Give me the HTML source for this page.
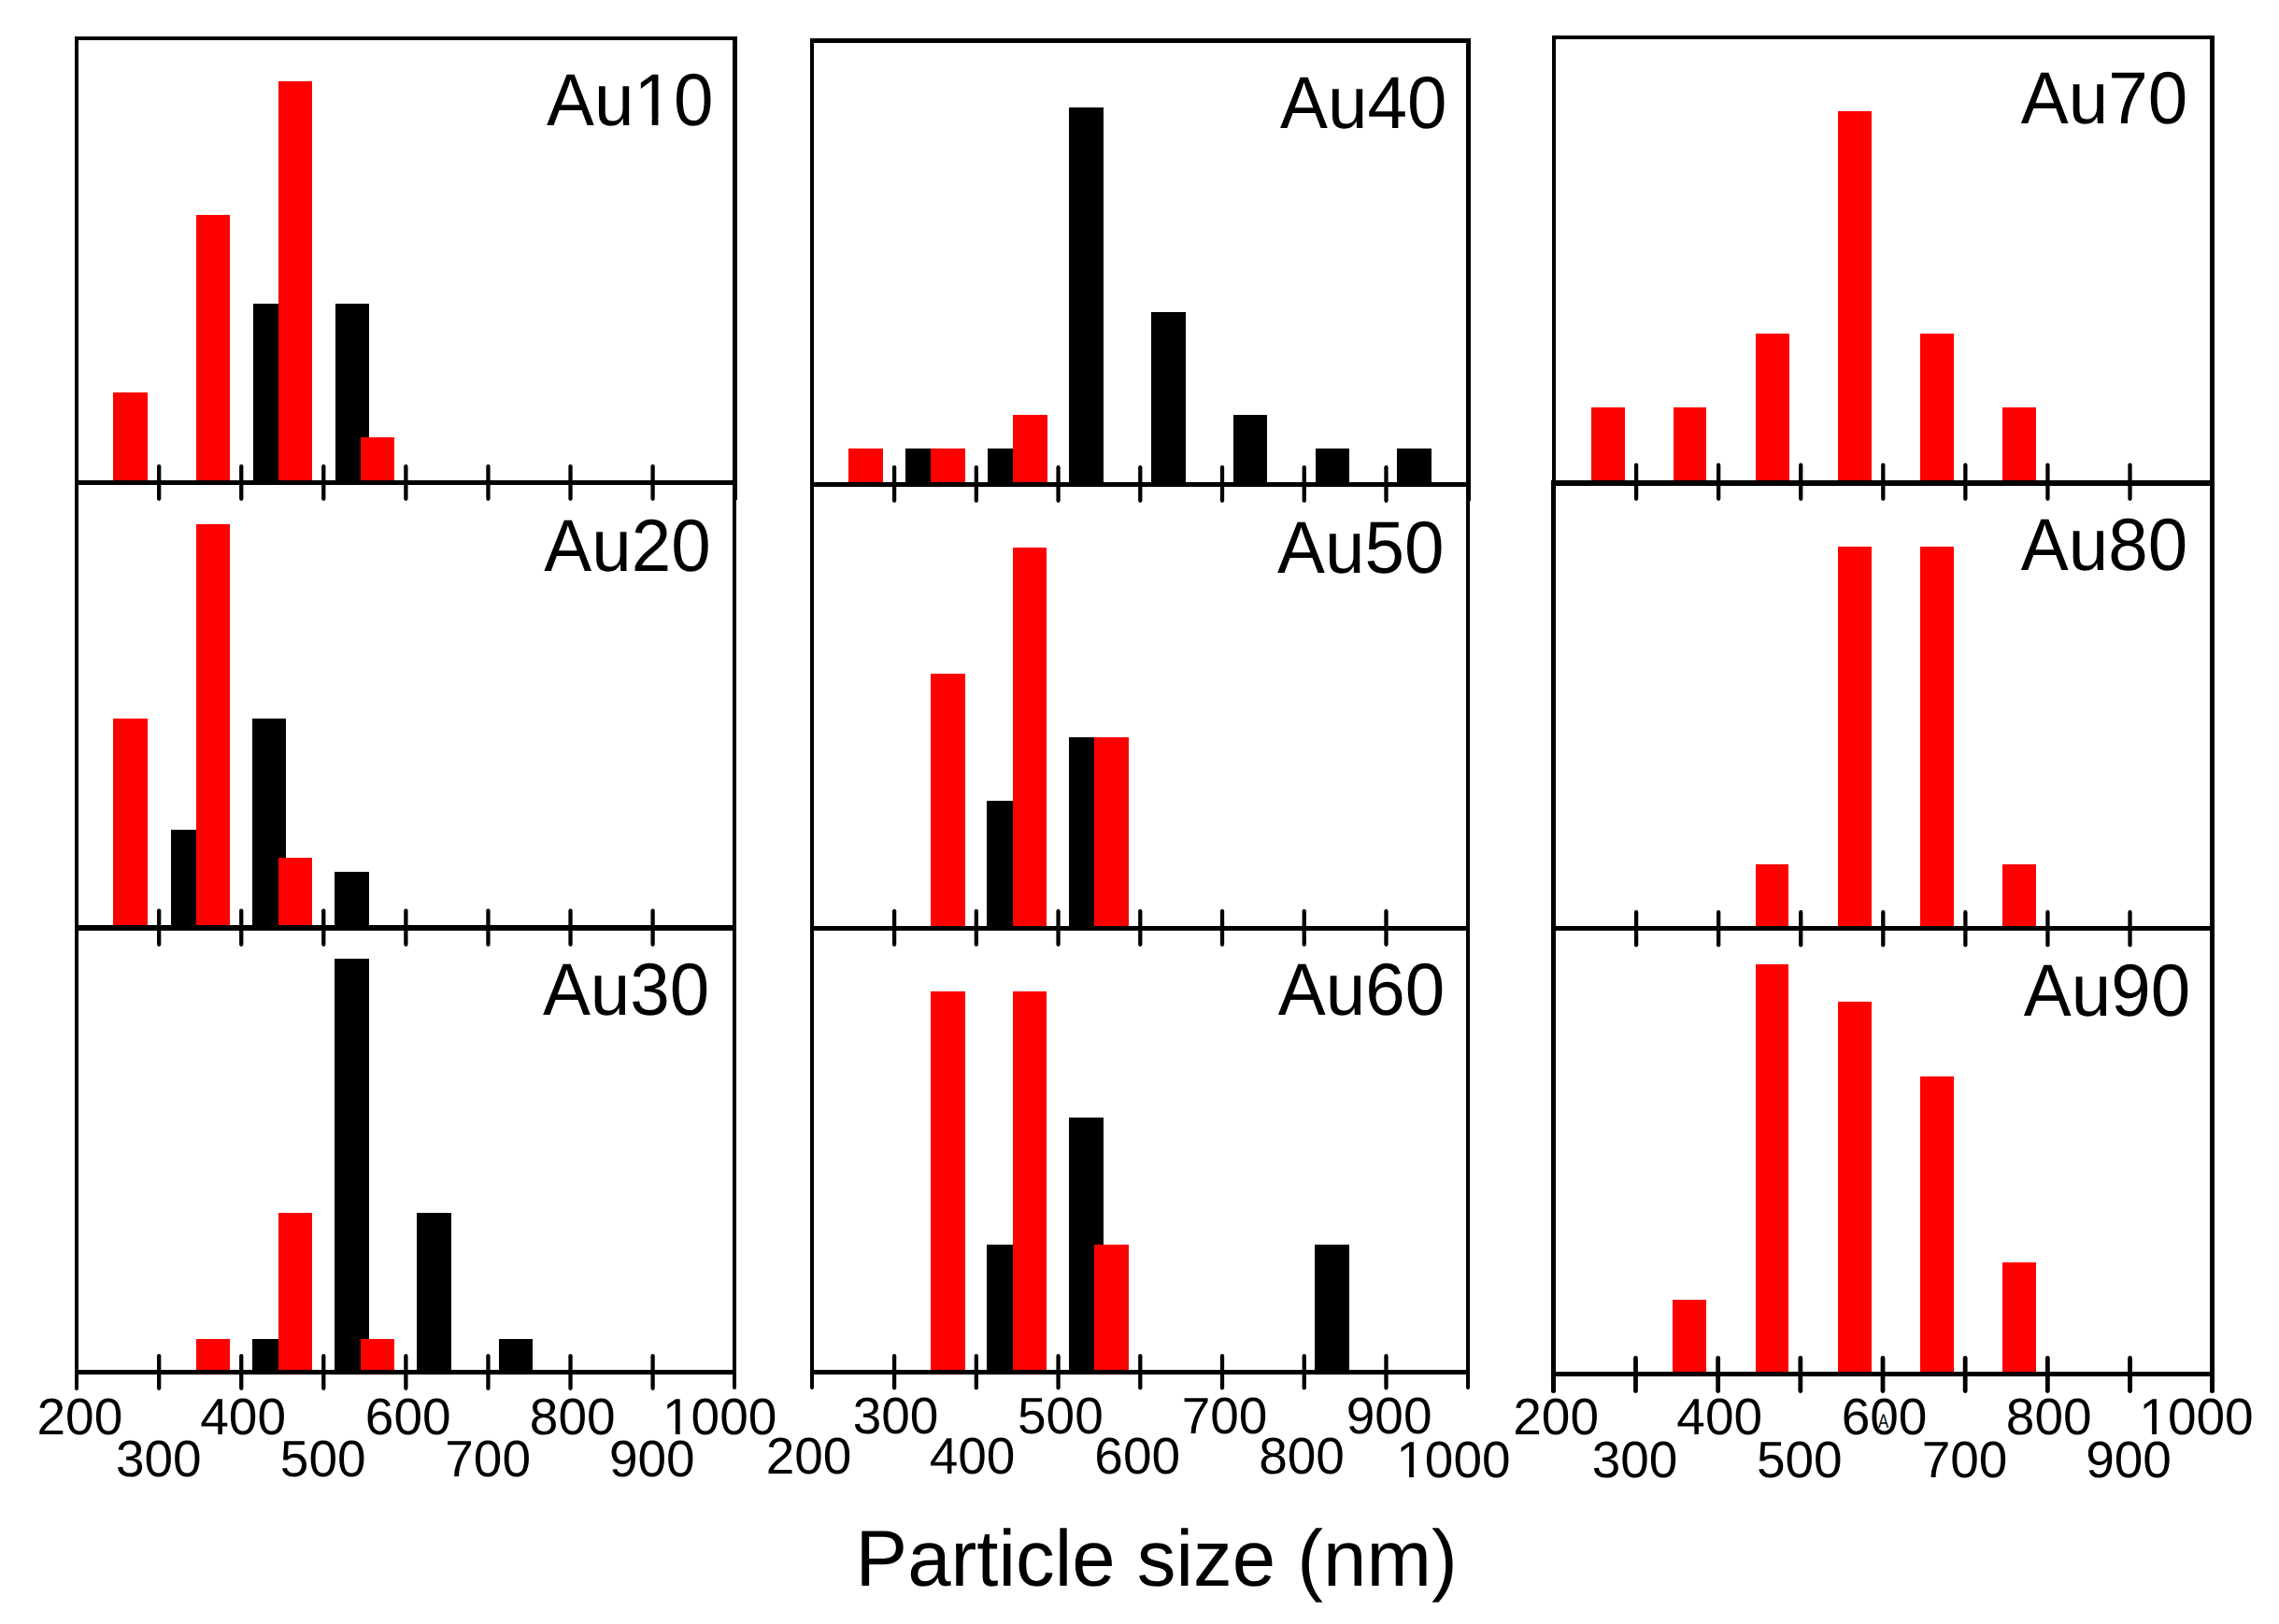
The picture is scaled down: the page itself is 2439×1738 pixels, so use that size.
<!DOCTYPE html>
<html lang="en"><head><meta charset="utf-8"><title>Particle size distributions</title>
<style>
html,body{margin:0;padding:0;background:#fff;}
body{width:2439px;height:1738px;overflow:hidden;}
svg{display:block;}
svg text{font-family:"Liberation Sans",sans-serif;fill:#000;text-rendering:geometricPrecision;}
svg rect{shape-rendering:crispEdges;}
svg rect.m{shape-rendering:geometricPrecision;}
</style></head><body>
<svg width="2439" height="1738" viewBox="0 0 2439 1738">
<rect x="0" y="0" width="2439" height="1738" fill="#fff"/>
<rect x="271.00" y="325.00" width="36.00" height="190.00" fill="#000"/>
<rect x="359.00" y="325.00" width="36.00" height="190.00" fill="#000"/>
<rect x="121.00" y="420.00" width="37.00" height="95.00" fill="#ff0000"/>
<rect x="210.00" y="230.00" width="36.00" height="285.00" fill="#ff0000"/>
<rect x="298.00" y="87.00" width="36.00" height="428.00" fill="#ff0000"/>
<rect x="386.00" y="468.00" width="36.00" height="47.00" fill="#ff0000"/>
<rect x="183.00" y="888.00" width="36.00" height="103.00" fill="#000"/>
<rect x="270.00" y="769.00" width="36.00" height="222.00" fill="#000"/>
<rect x="358.00" y="933.00" width="37.00" height="58.00" fill="#000"/>
<rect x="121.00" y="769.00" width="37.00" height="222.00" fill="#ff0000"/>
<rect x="210.00" y="561.00" width="36.00" height="430.00" fill="#ff0000"/>
<rect x="298.00" y="918.00" width="36.00" height="73.00" fill="#ff0000"/>
<rect x="270.00" y="1433.00" width="36.00" height="34.00" fill="#000"/>
<rect x="358.00" y="1026.00" width="37.00" height="441.00" fill="#000"/>
<rect x="446.00" y="1298.00" width="37.00" height="169.00" fill="#000"/>
<rect x="534.00" y="1433.00" width="36.00" height="34.00" fill="#000"/>
<rect x="210.00" y="1433.00" width="36.00" height="34.00" fill="#ff0000"/>
<rect x="298.00" y="1298.00" width="36.00" height="169.00" fill="#ff0000"/>
<rect x="386.00" y="1433.00" width="36.00" height="34.00" fill="#ff0000"/>
<rect x="969.00" y="480.00" width="36.00" height="37.00" fill="#000"/>
<rect x="1057.00" y="480.00" width="36.00" height="37.00" fill="#000"/>
<rect x="1144.00" y="115.00" width="37.00" height="402.00" fill="#000"/>
<rect x="1232.00" y="334.00" width="37.00" height="183.00" fill="#000"/>
<rect x="1320.00" y="444.00" width="36.00" height="73.00" fill="#000"/>
<rect x="1408.00" y="480.00" width="36.00" height="37.00" fill="#000"/>
<rect x="1495.00" y="480.00" width="37.00" height="37.00" fill="#000"/>
<rect x="908.00" y="480.00" width="37.00" height="37.00" fill="#ff0000"/>
<rect x="996.00" y="480.00" width="37.00" height="37.00" fill="#ff0000"/>
<rect x="1084.00" y="444.00" width="37.00" height="73.00" fill="#ff0000"/>
<rect x="1056.00" y="857.00" width="36.00" height="135.00" fill="#000"/>
<rect x="1144.00" y="789.00" width="36.00" height="203.00" fill="#000"/>
<rect x="996.00" y="721.00" width="37.00" height="271.00" fill="#ff0000"/>
<rect x="1084.00" y="586.00" width="36.00" height="406.00" fill="#ff0000"/>
<rect x="1171.00" y="789.00" width="37.00" height="203.00" fill="#ff0000"/>
<rect x="1056.00" y="1332.00" width="36.00" height="135.00" fill="#000"/>
<rect x="1144.00" y="1196.00" width="37.00" height="271.00" fill="#000"/>
<rect x="1407.00" y="1332.00" width="37.00" height="135.00" fill="#000"/>
<rect x="996.00" y="1061.00" width="37.00" height="406.00" fill="#ff0000"/>
<rect x="1084.00" y="1061.00" width="36.00" height="406.00" fill="#ff0000"/>
<rect x="1171.00" y="1332.00" width="37.00" height="135.00" fill="#ff0000"/>
<rect x="1703.00" y="436.00" width="36.00" height="79.00" fill="#ff0000"/>
<rect x="1791.00" y="436.00" width="35.00" height="79.00" fill="#ff0000"/>
<rect x="1879.00" y="357.00" width="36.00" height="158.00" fill="#ff0000"/>
<rect x="1967.00" y="119.00" width="36.00" height="396.00" fill="#ff0000"/>
<rect x="2055.00" y="357.00" width="36.00" height="158.00" fill="#ff0000"/>
<rect x="2143.00" y="436.00" width="36.00" height="79.00" fill="#ff0000"/>
<rect x="1879.00" y="925.00" width="35.00" height="66.50" fill="#ff0000"/>
<rect x="1967.00" y="585.00" width="36.00" height="406.50" fill="#ff0000"/>
<rect x="2055.00" y="585.00" width="36.00" height="406.50" fill="#ff0000"/>
<rect x="2143.00" y="925.00" width="36.00" height="66.50" fill="#ff0000"/>
<rect x="1790.00" y="1391.00" width="36.00" height="78.00" fill="#ff0000"/>
<rect x="1879.00" y="1032.00" width="35.00" height="437.00" fill="#ff0000"/>
<rect x="1967.00" y="1072.00" width="36.00" height="397.00" fill="#ff0000"/>
<rect x="2055.00" y="1152.00" width="36.00" height="317.00" fill="#ff0000"/>
<rect x="2143.00" y="1351.00" width="36.00" height="118.00" fill="#ff0000"/>
<rect x="80.00" y="39.00" width="4.00" height="1446.00" fill="#000"/>
<line x1="82.00" y1="1472.00" x2="82.00" y2="1486.00" stroke="#000" stroke-width="4" stroke-linecap="round"/>
<rect x="80.00" y="39.00" width="709.00" height="4.00" fill="#000"/>
<rect x="784.00" y="39.00" width="5.00" height="496.00" fill="#000"/>
<rect x="784.00" y="535.00" width="4.00" height="949.00" fill="#000"/>
<line x1="786.00" y1="1472.00" x2="786.00" y2="1485.00" stroke="#000" stroke-width="4" stroke-linecap="round"/>
<rect x="80.00" y="514.00" width="709.00" height="5.00" fill="#000"/>
<rect x="80.00" y="990.00" width="708.00" height="5.80" fill="#000"/>
<rect x="80.00" y="1466.00" width="708.00" height="5.00" fill="#000"/>
<line x1="170.17" y1="499.15" x2="170.17" y2="533.85" stroke="#000" stroke-width="4.3" stroke-linecap="round"/>
<line x1="170.17" y1="974.75" x2="170.17" y2="1010.85" stroke="#000" stroke-width="4.3" stroke-linecap="round"/>
<line x1="170.17" y1="1451.15" x2="170.17" y2="1485.85" stroke="#000" stroke-width="4.3" stroke-linecap="round"/>
<line x1="258.24" y1="499.15" x2="258.24" y2="533.85" stroke="#000" stroke-width="4.3" stroke-linecap="round"/>
<line x1="258.24" y1="974.75" x2="258.24" y2="1010.85" stroke="#000" stroke-width="4.3" stroke-linecap="round"/>
<line x1="258.24" y1="1451.15" x2="258.24" y2="1485.85" stroke="#000" stroke-width="4.3" stroke-linecap="round"/>
<line x1="346.31" y1="499.15" x2="346.31" y2="533.85" stroke="#000" stroke-width="4.3" stroke-linecap="round"/>
<line x1="346.31" y1="974.75" x2="346.31" y2="1010.85" stroke="#000" stroke-width="4.3" stroke-linecap="round"/>
<line x1="346.31" y1="1451.15" x2="346.31" y2="1485.85" stroke="#000" stroke-width="4.3" stroke-linecap="round"/>
<line x1="434.38" y1="499.15" x2="434.38" y2="533.85" stroke="#000" stroke-width="4.3" stroke-linecap="round"/>
<line x1="434.38" y1="974.75" x2="434.38" y2="1010.85" stroke="#000" stroke-width="4.3" stroke-linecap="round"/>
<line x1="434.38" y1="1451.15" x2="434.38" y2="1485.85" stroke="#000" stroke-width="4.3" stroke-linecap="round"/>
<line x1="522.45" y1="499.15" x2="522.45" y2="533.85" stroke="#000" stroke-width="4.3" stroke-linecap="round"/>
<line x1="522.45" y1="974.75" x2="522.45" y2="1010.85" stroke="#000" stroke-width="4.3" stroke-linecap="round"/>
<line x1="522.45" y1="1451.15" x2="522.45" y2="1485.85" stroke="#000" stroke-width="4.3" stroke-linecap="round"/>
<line x1="610.52" y1="499.15" x2="610.52" y2="533.85" stroke="#000" stroke-width="4.3" stroke-linecap="round"/>
<line x1="610.52" y1="974.75" x2="610.52" y2="1010.85" stroke="#000" stroke-width="4.3" stroke-linecap="round"/>
<line x1="610.52" y1="1451.15" x2="610.52" y2="1485.85" stroke="#000" stroke-width="4.3" stroke-linecap="round"/>
<line x1="698.59" y1="499.15" x2="698.59" y2="533.85" stroke="#000" stroke-width="4.3" stroke-linecap="round"/>
<line x1="698.59" y1="974.75" x2="698.59" y2="1010.85" stroke="#000" stroke-width="4.3" stroke-linecap="round"/>
<line x1="698.59" y1="1451.15" x2="698.59" y2="1485.85" stroke="#000" stroke-width="4.3" stroke-linecap="round"/>
<rect x="867.00" y="41.00" width="4.00" height="1443.00" fill="#000"/>
<line x1="869.00" y1="1472.00" x2="869.00" y2="1485.00" stroke="#000" stroke-width="4" stroke-linecap="round"/>
<rect x="867.00" y="41.00" width="707.00" height="5.00" fill="#000"/>
<rect x="1568.80" y="41.00" width="5.20" height="495.00" fill="#000"/>
<rect x="1569.00" y="535.00" width="4.00" height="949.00" fill="#000"/>
<line x1="1571.00" y1="1472.00" x2="1571.00" y2="1485.00" stroke="#000" stroke-width="4" stroke-linecap="round"/>
<rect x="867.00" y="516.00" width="707.00" height="5.00" fill="#000"/>
<rect x="867.00" y="991.00" width="706.00" height="5.00" fill="#000"/>
<rect x="867.00" y="1466.00" width="706.00" height="5.00" fill="#000"/>
<line x1="957.10" y1="500.15" x2="957.10" y2="535.85" stroke="#000" stroke-width="4.3" stroke-linecap="round"/>
<line x1="957.10" y1="975.15" x2="957.10" y2="1010.85" stroke="#000" stroke-width="4.3" stroke-linecap="round"/>
<line x1="957.10" y1="1451.15" x2="957.10" y2="1485.35" stroke="#000" stroke-width="4.3" stroke-linecap="round"/>
<line x1="1044.83" y1="500.15" x2="1044.83" y2="535.85" stroke="#000" stroke-width="4.3" stroke-linecap="round"/>
<line x1="1044.83" y1="975.15" x2="1044.83" y2="1010.85" stroke="#000" stroke-width="4.3" stroke-linecap="round"/>
<line x1="1044.83" y1="1451.15" x2="1044.83" y2="1485.35" stroke="#000" stroke-width="4.3" stroke-linecap="round"/>
<line x1="1132.56" y1="500.15" x2="1132.56" y2="535.85" stroke="#000" stroke-width="4.3" stroke-linecap="round"/>
<line x1="1132.56" y1="975.15" x2="1132.56" y2="1010.85" stroke="#000" stroke-width="4.3" stroke-linecap="round"/>
<line x1="1132.56" y1="1451.15" x2="1132.56" y2="1485.35" stroke="#000" stroke-width="4.3" stroke-linecap="round"/>
<line x1="1220.29" y1="500.15" x2="1220.29" y2="535.85" stroke="#000" stroke-width="4.3" stroke-linecap="round"/>
<line x1="1220.29" y1="975.15" x2="1220.29" y2="1010.85" stroke="#000" stroke-width="4.3" stroke-linecap="round"/>
<line x1="1220.29" y1="1451.15" x2="1220.29" y2="1485.35" stroke="#000" stroke-width="4.3" stroke-linecap="round"/>
<line x1="1308.02" y1="500.15" x2="1308.02" y2="535.85" stroke="#000" stroke-width="4.3" stroke-linecap="round"/>
<line x1="1308.02" y1="975.15" x2="1308.02" y2="1010.85" stroke="#000" stroke-width="4.3" stroke-linecap="round"/>
<line x1="1308.02" y1="1451.15" x2="1308.02" y2="1485.35" stroke="#000" stroke-width="4.3" stroke-linecap="round"/>
<line x1="1395.75" y1="500.15" x2="1395.75" y2="535.85" stroke="#000" stroke-width="4.3" stroke-linecap="round"/>
<line x1="1395.75" y1="975.15" x2="1395.75" y2="1010.85" stroke="#000" stroke-width="4.3" stroke-linecap="round"/>
<line x1="1395.75" y1="1451.15" x2="1395.75" y2="1485.35" stroke="#000" stroke-width="4.3" stroke-linecap="round"/>
<line x1="1483.48" y1="500.15" x2="1483.48" y2="535.85" stroke="#000" stroke-width="4.3" stroke-linecap="round"/>
<line x1="1483.48" y1="975.15" x2="1483.48" y2="1010.85" stroke="#000" stroke-width="4.3" stroke-linecap="round"/>
<line x1="1483.48" y1="1451.15" x2="1483.48" y2="1485.35" stroke="#000" stroke-width="4.3" stroke-linecap="round"/>
<rect x="1661.00" y="38.00" width="4.00" height="482.00" fill="#000"/>
<rect x="1660.00" y="514.00" width="5.00" height="974.00" fill="#000"/>
<line x1="1662.50" y1="1474.50" x2="1662.50" y2="1488.50" stroke="#000" stroke-width="5" stroke-linecap="round"/>
<rect x="1661.00" y="38.00" width="709.00" height="4.00" fill="#000"/>
<rect x="2365.00" y="38.00" width="5.00" height="1450.00" fill="#000"/>
<line x1="2367.50" y1="1474.50" x2="2367.50" y2="1488.50" stroke="#000" stroke-width="5" stroke-linecap="round"/>
<rect x="1660.00" y="514.00" width="710.00" height="6.00" fill="#000"/>
<rect x="1660.00" y="990.50" width="710.00" height="5.90" fill="#000"/>
<rect x="1660.00" y="1468.00" width="710.00" height="5.00" fill="#000"/>
<line x1="1751.10" y1="497.65" x2="1751.10" y2="533.85" stroke="#000" stroke-width="4.3" stroke-linecap="round"/>
<line x1="1751.10" y1="976.15" x2="1751.10" y2="1011.45" stroke="#000" stroke-width="4.3" stroke-linecap="round"/>
<line x1="1750.50" y1="1453.40" x2="1750.50" y2="1488.60" stroke="#000" stroke-width="4.8" stroke-linecap="round"/>
<line x1="1839.17" y1="497.65" x2="1839.17" y2="533.85" stroke="#000" stroke-width="4.3" stroke-linecap="round"/>
<line x1="1839.17" y1="976.15" x2="1839.17" y2="1011.45" stroke="#000" stroke-width="4.3" stroke-linecap="round"/>
<line x1="1838.67" y1="1453.40" x2="1838.67" y2="1488.60" stroke="#000" stroke-width="4.8" stroke-linecap="round"/>
<line x1="1927.24" y1="497.65" x2="1927.24" y2="533.85" stroke="#000" stroke-width="4.3" stroke-linecap="round"/>
<line x1="1927.24" y1="976.15" x2="1927.24" y2="1011.45" stroke="#000" stroke-width="4.3" stroke-linecap="round"/>
<line x1="1926.84" y1="1453.40" x2="1926.84" y2="1488.60" stroke="#000" stroke-width="4.8" stroke-linecap="round"/>
<line x1="2015.31" y1="497.65" x2="2015.31" y2="533.85" stroke="#000" stroke-width="4.3" stroke-linecap="round"/>
<line x1="2015.31" y1="976.15" x2="2015.31" y2="1011.45" stroke="#000" stroke-width="4.3" stroke-linecap="round"/>
<line x1="2015.01" y1="1453.40" x2="2015.01" y2="1488.60" stroke="#000" stroke-width="4.8" stroke-linecap="round"/>
<line x1="2103.38" y1="497.65" x2="2103.38" y2="533.85" stroke="#000" stroke-width="4.3" stroke-linecap="round"/>
<line x1="2103.38" y1="976.15" x2="2103.38" y2="1011.45" stroke="#000" stroke-width="4.3" stroke-linecap="round"/>
<line x1="2103.18" y1="1453.40" x2="2103.18" y2="1488.60" stroke="#000" stroke-width="4.8" stroke-linecap="round"/>
<line x1="2191.45" y1="497.65" x2="2191.45" y2="533.85" stroke="#000" stroke-width="4.3" stroke-linecap="round"/>
<line x1="2191.45" y1="976.15" x2="2191.45" y2="1011.45" stroke="#000" stroke-width="4.3" stroke-linecap="round"/>
<line x1="2191.35" y1="1453.40" x2="2191.35" y2="1488.60" stroke="#000" stroke-width="4.8" stroke-linecap="round"/>
<line x1="2279.52" y1="497.65" x2="2279.52" y2="533.85" stroke="#000" stroke-width="4.3" stroke-linecap="round"/>
<line x1="2279.52" y1="976.15" x2="2279.52" y2="1011.45" stroke="#000" stroke-width="4.3" stroke-linecap="round"/>
<line x1="2279.52" y1="1453.40" x2="2279.52" y2="1488.60" stroke="#000" stroke-width="4.8" stroke-linecap="round"/>
<text transform="translate(585.00 133.70) scale(0.9670886075949368 1)" font-size="79" text-anchor="start">Au10</text>
<text transform="translate(582.20 610.80) scale(0.9670886075949368 1)" font-size="79" text-anchor="start">Au20</text>
<text transform="translate(580.90 1085.70) scale(0.9670886075949368 1)" font-size="79" text-anchor="start">Au30</text>
<text transform="translate(1370.00 136.60) scale(0.9670886075949368 1)" font-size="79" text-anchor="start">Au40</text>
<text transform="translate(1367.00 613.00) scale(0.9670886075949368 1)" font-size="79" text-anchor="start">Au50</text>
<text transform="translate(1367.80 1085.70) scale(0.9670886075949368 1)" font-size="79" text-anchor="start">Au60</text>
<text transform="translate(2162.80 131.70) scale(0.9670886075949368 1)" font-size="79" text-anchor="start">Au70</text>
<text transform="translate(2162.80 609.60) scale(0.9670886075949368 1)" font-size="79" text-anchor="start">Au80</text>
<text transform="translate(2165.70 1086.60) scale(0.9670886075949368 1)" font-size="79" text-anchor="start">Au90</text>
<rect class="m" x="682.03" y="126.80" width="15.63" height="7.90" fill="#fff"/>
<rect class="m" x="704.41" y="126.80" width="15.03" height="7.90" fill="#fff"/>
<text transform="translate(85.40 1534.80) scale(1.0 1)" font-size="55" text-anchor="middle">200</text>
<text transform="translate(260.10 1534.80) scale(1.0 1)" font-size="55" text-anchor="middle">400</text>
<text transform="translate(436.70 1534.80) scale(1.0 1)" font-size="55" text-anchor="middle">600</text>
<text transform="translate(612.70 1534.80) scale(1.0 1)" font-size="55" text-anchor="middle">800</text>
<text transform="translate(770.20 1534.80) scale(1.0 1)" font-size="55" text-anchor="middle">1000</text>
<text transform="translate(169.80 1580.30) scale(1.0 1)" font-size="55" text-anchor="middle">300</text>
<text transform="translate(345.70 1580.30) scale(1.0 1)" font-size="55" text-anchor="middle">500</text>
<text transform="translate(522.10 1580.30) scale(1.0 1)" font-size="55" text-anchor="middle">700</text>
<text transform="translate(697.80 1580.30) scale(1.0 1)" font-size="55" text-anchor="middle">900</text>
<text transform="translate(958.50 1534.00) scale(1.0 1)" font-size="55" text-anchor="middle">300</text>
<text transform="translate(1134.90 1534.00) scale(1.0 1)" font-size="55" text-anchor="middle">500</text>
<text transform="translate(1310.50 1534.00) scale(1.0 1)" font-size="55" text-anchor="middle">700</text>
<text transform="translate(1486.60 1534.00) scale(1.0 1)" font-size="55" text-anchor="middle">900</text>
<text transform="translate(865.50 1577.00) scale(1.0 1)" font-size="55" text-anchor="middle">200</text>
<text transform="translate(1040.50 1577.00) scale(1.0 1)" font-size="55" text-anchor="middle">400</text>
<text transform="translate(1217.20 1577.00) scale(1.0 1)" font-size="55" text-anchor="middle">600</text>
<text transform="translate(1393.00 1577.00) scale(1.0 1)" font-size="55" text-anchor="middle">800</text>
<text transform="translate(1555.40 1580.70) scale(1.0 1)" font-size="55" text-anchor="middle">1000</text>
<text transform="translate(1665.10 1535.00) scale(1.0 1)" font-size="55" text-anchor="middle">200</text>
<text transform="translate(1840.20 1535.00) scale(1.0 1)" font-size="55" text-anchor="middle">400</text>
<text transform="translate(2016.50 1535.00) scale(1.0 1)" font-size="55" text-anchor="middle">600</text>
<text transform="translate(2192.70 1535.00) scale(1.0 1)" font-size="55" text-anchor="middle">800</text>
<text transform="translate(2350.50 1535.00) scale(1.0 1)" font-size="55" text-anchor="middle">1000</text>
<text transform="translate(1749.50 1581.20) scale(1.0 1)" font-size="55" text-anchor="middle">300</text>
<text transform="translate(1925.80 1581.20) scale(1.0 1)" font-size="55" text-anchor="middle">500</text>
<text transform="translate(2102.50 1581.20) scale(1.0 1)" font-size="55" text-anchor="middle">700</text>
<text transform="translate(2278.00 1581.20) scale(1.0 1)" font-size="55" text-anchor="middle">900</text>
<rect class="m" x="711.60" y="1529.69" width="11.25" height="6.11" fill="#fff"/>
<rect class="m" x="727.71" y="1529.69" width="10.82" height="6.11" fill="#fff"/>
<rect class="m" x="1496.80" y="1575.59" width="11.25" height="6.11" fill="#fff"/>
<rect class="m" x="1512.91" y="1575.59" width="10.82" height="6.11" fill="#fff"/>
<rect class="m" x="2291.90" y="1529.89" width="11.25" height="6.11" fill="#fff"/>
<rect class="m" x="2308.01" y="1529.89" width="10.82" height="6.11" fill="#fff"/>
<text transform="translate(2015.50 1527.60) scale(0.8 1)" font-size="21" text-anchor="middle">A</text>
<text transform="translate(915.60 1696.70) scale(0.9788732394366197 1)" font-size="85.2" text-anchor="start">Particle size (nm)</text>
</svg>
</body></html>
